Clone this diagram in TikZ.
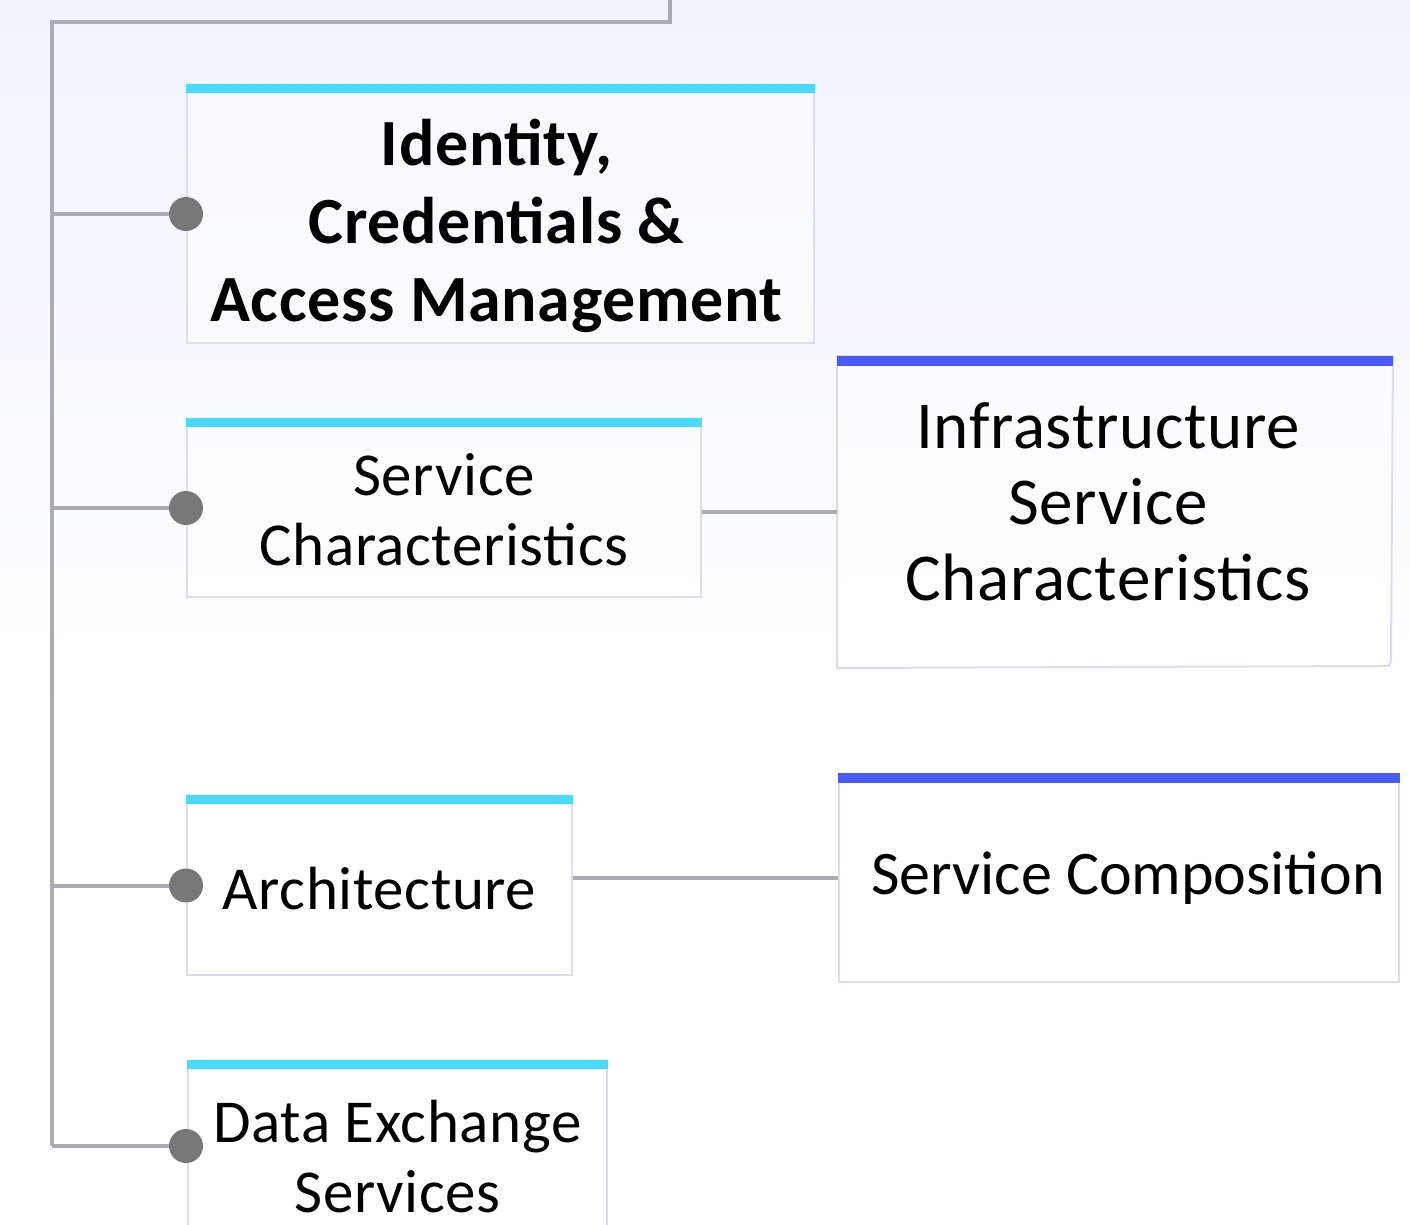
\documentclass[tikz,border=0pt]{standalone}
\usepackage{fontspec}
\setmainfont{Carlito}
\definecolor{bgtop}{HTML}{F2F3FE}
\definecolor{linkgray}{HTML}{ABABB3}
\definecolor{knobgray}{HTML}{787878}
\definecolor{cardline}{HTML}{DDDDF0}
\definecolor{cyanbar}{HTML}{48DBFF}
\definecolor{bluebar}{HTML}{4A5BFF}
\tikzset{
  card/.style={draw=cardline, line width=2pt, fill=white, fill opacity=.55,
    anchor=north west, inner sep=0pt},
  cardtext/.style={align=center, inner sep=0pt},
  link/.style={draw=linkgray, line width=4pt},
  knob/.style={fill=knobgray},
  cyantop/.style={fill=cyanbar},
  bluetop/.style={fill=bluebar}
}
\newcommand{\lefttext}{\fontsize{61}{70}\selectfont\addfontfeature{LetterSpace=1}}
\begin{document}
\begin{tikzpicture}[x=1pt,y=-1pt]
  \shade[top color=bgtop, bottom color=white] (0,0) rectangle (1410,720);
  \fill[white] (0,720) rectangle (1410,1224);
  \useasboundingbox (0,0) rectangle (1410,1224);
  % cards on the left
  \node[card, minimum width=627pt, minimum height=258pt] (idm) at (186,84) {};
  \node[card, minimum width=514pt, minimum height=178pt] (svc) at (186,418) {};
  \node[card, minimum width=385pt, minimum height=179pt] (arch) at (186,795) {};
  \node[card, minimum width=419pt, minimum height=200pt] (dx) at (187,1060) {};
  % cards on the right
  \node[card, draw=none, minimum width=554pt, minimum height=310pt] (infra) at (837,356) {};
  \draw[cardline, line width=2pt] (infra.north west) -- (infra.north east)
    -- (1391,654) .. controls (1391,666) .. (1379,666) -- (infra.south west) -- cycle;
  \node[card, minimum width=560pt, minimum height=208pt] (comp) at (838,773) {};
  % top bars
  \foreach \c in {idm,svc,arch,dx}
    \fill[cyantop] (\c.north west) rectangle ([yshift=-9pt]\c.north east);
  \foreach \c in {infra,comp}
    \fill[bluetop] (\c.north west) rectangle ([yshift=-10pt]\c.north east);
  % texts
  \node[cardtext, font=\bfseries\fontsize{66}{78}\selectfont\addfontfeature{LetterSpace=1}]
    (idm-t) at ([xshift=-4pt,yshift=-12pt]idm.center) {Identity,\\Credentials \&\\Access Management};
  \node[cardtext, font=\lefttext] (svc-t) at ([yshift=-2pt]svc.center)
    {Service\\Characteristics};
  \node[cardtext, font=\lefttext] (arch-t) at ([yshift=-3pt]arch.center) {Architecture};
  \node[cardtext, font=\lefttext] (dx-t) at ([yshift=4pt]dx.center) {Data Exchange\\Services};
  \node[cardtext, font=\fontsize{67}{76}\selectfont\addfontfeature{LetterSpace=1}]
    (infra-t) at ([xshift=-7pt,yshift=10pt]infra.center) {Infrastructure\\Service\\Characteristics};
  \node[cardtext, font=\fontsize{62}{72}\selectfont] (comp-t) at ([xshift=9pt]comp.center)
    {Service Composition};
  % connectors
  \coordinate (trunk) at (52,22);
  \draw[link] (670,0) -- (670,22) -- (trunk) -- (52,1146);
  \foreach \c in {idm,svc,arch}
    \draw[link] (trunk |- \c.west) -- (\c.west);
  \coordinate (dxin) at (186,1146);
  \draw[link] (trunk |- dxin) -- (dxin);
  \draw[link] (svc.east |- infra.west) -- (infra.west);
  \draw[link] (arch.east |- comp.west) -- (comp.west);
  \foreach \c in {idm.west,svc.west,arch.west,dxin}
    \fill[knob] (\c) circle (17pt);
\end{tikzpicture}
\end{document}
